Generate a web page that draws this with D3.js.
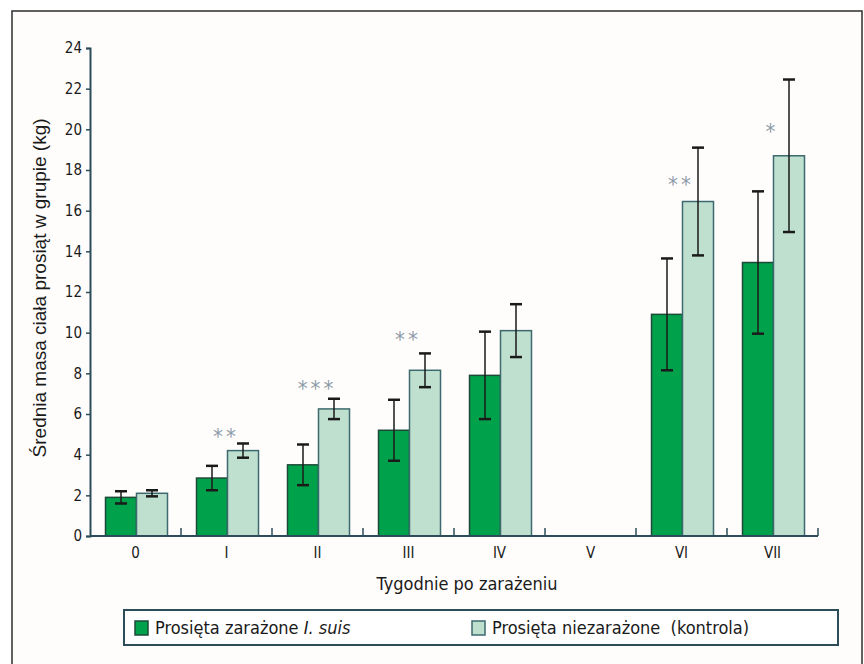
<!DOCTYPE html>
<html>
<head>
<meta charset="utf-8">
<script src="https://cdn.jsdelivr.net/npm/d3@7"></script>
<style>
  body { margin: 0; background: #fff; }
  svg { display: block; }
  .cond { font-family: "Liberation Sans Narrow", "DejaVu Sans Condensed", "Roboto Condensed", sans-serif; }
</style>
</head>
<body>
<div id="chart"></div>
<script>
// weeks after infection
const weeks = ["0", "I", "II", "III", "IV", "V", "VI", "VII"];
// infected piglets (I. suis): mean and SD, null = no measurement
const infected = [1.9, 2.85, 3.5, 5.2, 7.9, null, 10.9, 13.45];
const infectedSd = [0.3, 0.6, 1.0, 1.5, 2.15, null, 2.75, 3.5];
// control piglets
const control = [2.1, 4.2, 6.25, 8.15, 10.1, null, 16.45, 18.7];
const controlSd = [0.15, 0.35, 0.5, 0.83, 1.3, null, 2.65, 3.75];
// significance marks and the height (kg) they sit at
const stars = ["", "**", "***", "**", "", "", "**", "*"];
const starLevel = [null, 5.1, 7.5, 9.9, null, null, 17.5, 20.1];
const yTicks = [0, 2, 4, 6, 8, 10, 12, 14, 16, 18, 20, 22, 24];

const width = 864, height = 664;
const margin = { left: 90, right: 46, top: 48, bottom: 128 };

const svg = d3.select("#chart").append("svg")
  .attr("width", width)
  .attr("height", height);

// page background and frame
svg.append("rect")
  .attr("x", 0).attr("y", 0).attr("width", width).attr("height", height)
  .attr("fill", "#fff");
svg.append("rect")
  .attr("x", 12).attr("y", 11).attr("width", 850).attr("height", 700)
  .attr("fill", "#fffdfb")
  .attr("stroke", "#2e2e2e")
  .attr("stroke-width", 1.5);

const x = d3.scaleBand()
  .domain(weeks)
  .range([margin.left, width - margin.right]);

const y = d3.scaleLinear()
  .domain([0, 24])
  .range([height - margin.bottom, margin.top]);

const barW = 31;
const offset = (x.bandwidth() - 2 * barW) / 2 + 1;

const rows = weeks.map((w, i) => ({
  week: w,
  a: infected[i], aSd: infectedSd[i],
  b: control[i], bSd: controlSd[i],
  star: stars[i], starY: starLevel[i]
}));

const axisColor = "#2d4c5a";

// bars
const g = svg.append("g");
const series = [
  { key: "a", sd: "aSd", dx: offset, fill: "#00a14b", stroke: "#1d4a38" },
  { key: "b", sd: "bSd", dx: offset + barW, fill: "#bfe0cf", stroke: "#3d6a6e" }
];

series.forEach(s => {
  const data = rows.filter(d => d[s.key] != null);
  g.selectAll(null)
    .data(data)
    .enter().append("rect")
    .attr("x", d => x(d.week) + s.dx)
    .attr("y", d => y(d[s.key]))
    .attr("width", barW)
    .attr("height", d => y(0) - y(d[s.key]))
    .attr("fill", s.fill)
    .attr("stroke", s.stroke)
    .attr("stroke-width", 1.5);
});

// error bars
series.forEach(s => {
  const data = rows.filter(d => d[s.key] != null);
  const eg = g.selectAll(null)
    .data(data)
    .enter().append("g")
    .attr("transform", d => `translate(${x(d.week) + s.dx + barW / 2},0)`);
  eg.append("line")
    .attr("y1", d => y(d[s.key] + d[s.sd]))
    .attr("y2", d => y(d[s.key] - d[s.sd]))
    .attr("stroke", "#1a1a1a")
    .attr("stroke-width", 1.5);
  eg.selectAll("line.cap")
    .data(d => [d[s.key] + d[s.sd], d[s.key] - d[s.sd]])
    .enter().append("line")
    .attr("class", "cap")
    .attr("x1", -6).attr("x2", 6)
    .attr("y1", v => y(v)).attr("y2", v => y(v))
    .attr("stroke", "#1a1a1a")
    .attr("stroke-width", 2.5);
});

// significance stars
g.selectAll(null)
  .data(rows.filter(d => d.star))
  .enter().append("text")
  .attr("class", "cond")
  .attr("x", d => x(d.week) + offset + barW - 3 + 1.5)
  .attr("y", d => y(d.starY) + 12)
  .attr("text-anchor", "middle")
  .attr("fill", "#8d9ba8")
  .style("font-size", "22px")
  .style("letter-spacing", "3px")
  .text(d => d.star);

// y axis
const yAxis = svg.append("g")
  .attr("transform", `translate(${margin.left},0)`)
  .call(d3.axisLeft(y).tickValues(yTicks).tickSize(4).tickPadding(4));
yAxis.select(".domain").attr("stroke", axisColor).attr("stroke-width", 2);
yAxis.selectAll(".tick line").attr("stroke", axisColor).attr("stroke-width", 1.5);
yAxis.selectAll(".tick text")
  .attr("class", "cond")
  .attr("fill", "#1a1a1a")
  .style("font-size", "15px");

// x axis: ticks between categories, pointing up
const xAxisG = svg.append("g")
  .attr("transform", `translate(0,${y(0)})`);
xAxisG.append("line")
  .attr("x1", margin.left).attr("x2", width - margin.right)
  .attr("stroke", axisColor).attr("stroke-width", 2);
xAxisG.selectAll(null)
  .data(weeks)
  .enter().append("line")
  .attr("x1", d => x(d) + x.bandwidth())
  .attr("x2", d => x(d) + x.bandwidth())
  .attr("y1", 0).attr("y2", -8)
  .attr("stroke", axisColor).attr("stroke-width", 1.5);
xAxisG.selectAll(null)
  .data(weeks)
  .enter().append("text")
  .attr("class", "cond")
  .attr("x", d => x(d) + x.bandwidth() / 2)
  .attr("y", 22)
  .attr("text-anchor", "middle")
  .attr("fill", "#1a1a1a")
  .style("font-size", "15px")
  .text(d => d);

// axis titles
svg.append("text")
  .attr("class", "cond")
  .attr("x", 467)
  .attr("y", 590)
  .attr("text-anchor", "middle")
  .attr("fill", "#1a1a1a")
  .style("font-size", "18px")
  .text("Tygodnie po zarażeniu");

svg.append("text")
  .attr("transform", `translate(46,${y(12.2)}) rotate(-90)`)
  .attr("text-anchor", "middle")
  .attr("fill", "#1a1a1a")
  .style("font-family", "'Liberation Sans', Arial, sans-serif")
  .style("font-size", "19px")
  .text("Średnia masa ciała prosiąt w grupie (kg)");

// legend
const legend = svg.append("g");
legend.append("rect")
  .attr("x", 124).attr("y", 610).attr("width", 714).attr("height", 35)
  .attr("fill", "#fff")
  .attr("stroke", "#2d4c5a")
  .attr("stroke-width", 2);

const items = [
  { x: 135, fill: "#00a14b", stroke: "#1d4a38", parts: [["Prosięta zarażone ", "normal"], ["I. suis", "italic"]] },
  { x: 472, fill: "#bfe0cf", stroke: "#3d6a6e", parts: [["Prosięta niezarażone  (kontrola)", "normal"]] }
];
items.forEach(it => {
  legend.append("rect")
    .attr("x", it.x).attr("y", 621).attr("width", 13).attr("height", 14)
    .attr("fill", it.fill)
    .attr("stroke", it.stroke)
    .attr("stroke-width", 1.5);
  const t = legend.append("text")
    .attr("class", "cond")
    .attr("x", it.x + 20)
    .attr("y", 634)
    .attr("fill", "#1a1a1a")
    .style("font-size", "18px")
    .attr("xml:space", "preserve");
  it.parts.forEach(p => {
    t.append("tspan").style("font-style", p[1]).text(p[0]);
  });
});
</script>
</body>
</html>
